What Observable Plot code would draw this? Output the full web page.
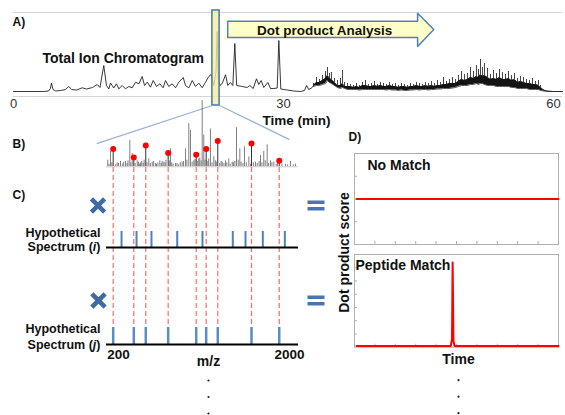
<!DOCTYPE html>
<html><head><meta charset="utf-8">
<script src="https://cdn.jsdelivr.net/npm/d3@7"></script>
<script src="https://cdn.jsdelivr.net/npm/@observablehq/plot@0.6"></script>
<style>
body{margin:0;background:#fff;}
#fig{position:relative;width:565px;height:415px;overflow:hidden;background:#fff;}
#fig svg{position:absolute;left:0;top:0;}
</style></head><body><div id="fig"></div>
<script>
// ---------- DATA ----------
// Panel A: total ion chromatogram (time in min, intensity arbitrary units)
const chromTime = [0,3.33,3.9,4.1,4.22,4.39,4.67,5.22,5.78,6.14,6.44,7.0,7.63,8.11,8.78,9.3,9.61,10.03,10.33,10.59,10.78,11.14,11.44,11.7,12.08,12.44,12.81,13.19,13.56,13.93,14.3,14.56,14.86,15.22,15.52,15.89,16.26,16.63,16.89,17.26,17.63,18.0,18.37,18.86,19.11,19.48,19.86,20.22,20.59,20.97,21.33,21.7,21.97,22.26,22.5,22.63,22.76,22.94,23.19,23.56,23.81,24.11,24.37,24.59,24.8,25.41,25.97,26.26,26.63,27.0,27.26,27.52,27.81,28.26,28.56,28.92,29.3,29.48,29.7,30.41,31.14,31.89,32.33,32.56,32.81,33.19,33.33];
const chromIntensity = [0,0,0.5,3,8.3,2,0.5,1,2,5,2,1.5,3.7,2.5,4,7,4,26,6,2.5,8.5,3.5,7.7,2.7,6,2.7,5,3.7,9.3,7.7,15,6,9.3,4.3,11,5,7.7,3.7,11,5,7.7,3.7,9.3,14,6,3.7,11,5,8.3,3.7,9.3,15,17,6,20,60,12,6,8,16.7,6,9,6,48,6,5,4,6,3,12.7,7,11,4,9,3,3,3.5,51,2.5,1.5,0.5,0,1,6,2,4,6];
// Panel A: densely sampled late region: band floor, band top, spike tops
const denseTime = [33.33,33.67,34.0,34.33,34.67,34.89,35.11,35.33,35.67,36.0,36.33,36.56,36.78,37.11,37.44,37.78,38.11,38.44,38.78,39.11,39.44,39.78,40.11,40.44,40.78,41.11,41.44,41.78,42.11,42.44,42.78,43.11,43.44,43.78,44.11,44.44,44.78,45.11,45.44,45.78,46.11,46.44,46.78,47.11,47.44,47.78,48.11,48.44,48.78,49.11,49.44,49.78,50.11,50.44,50.78,51.11,51.44,51.67,51.89,52.11,52.33,52.67,53.0,53.33,53.67,54.0,54.33,54.67,55.0,55.33,55.67,56.0,56.33,56.67,57.0,57.33,57.67,58.0,58.33,58.56,58.89,59.33,60.0,61.0];
const denseLow  = [5,6,6,7,8,11,9,8,6,4,3,4,3,2,2,2,2,1.5,2,2,2,2,2,2,2,2,1.5,2,1.5,1.5,1,1.5,1,1,1.5,1.5,2,1.5,2,2,1.5,2,2,2.5,2.5,3,3,3,3.5,4,5,6,6,6,7,7,8,7,8,8,7,6,6,6,5,5,5,5,5,4,4,3,3,3,3,2,2,2,2,1,0.5,0,0,0];
const denseCore = [6,9,9,11,13,16,13,12,9,6,6,8,5,5,5,4,5,4,6,6,5,5,6,5,6,5,5,6,5,5,4,5,5,4,5,5,6,5,5,6,5,6,5,6,6,7,7,8,8,8,10,12,11,12,14,13,15,14,17,15,16,14,12,13,12,14,12,12,13,11,12,9,10,9,8,8,7,7,6,4,1.5,0.3,0,0];
const denseHigh = [8,14,12,16,20,24,18,19,13,11,13,21,9,8,7,6,8,6,9,11,7,8,10,7,9,8,7,9,7,8,6,8,7,6,8,7,9,8,7,9,8,10,8,11,9,14,10,12,14,12,16,20,17,18,24,20,26,22,32,24,28,23,17,21,18,22,19,17,20,16,18,13,15,14,12,11,13,10,11,6,2,0.5,0,0];
const timeTicks = [0, 30, 60];
const selectedScan = [22.1, 22.9];      // highlighted time window (min)
const analysisSpan = [23.8, 46.7];      // "Dot product Analysis" arrow extent (min)

// Panel B: observed MS/MS spectrum (m/z, relative intensity)
const specMz = [87,100,116,130,170,186,200,221,240,255,274,290,300,319,330,344,375,397,410,420,432,445,460,470,500,519,535,555,570,589,600,615,635,650,660,677,690,700,735,747,760,775,800,815,830,850,870,885,905,920,940,958,975,993,1005,1035,1045,1056,1070,1081,1098,1110,1140,1150,1168,1185,1203,1220,1230,1265,1280,1292,1310,1326,1340,1361,1375,1397,1410,1425,1442,1460,1477,1490,1510,1526,1545,1572,1590,1620,1642,1660,1680,1695,1710,1729,1745,1765,1780,1800,1815,1835,1860,1875,1920,1958,1980,2010,2040,2063];
const specIntensity = [10,4,23,6,3,6,5,8,4,7,8,5,9,40,6,20,5,9,7,4,6,8,5,10,6,12,5,7,8,5,4,6,9,5,8,7,6,10,9,27,6,4,5,5,3,6,7,8,27,10,65,55,7,9,11,8,12,13,9,100,48,10,8,12,57,6,15,9,7,5,8,7,5,9,6,12,4,7,6,8,59,10,27,7,5,30,6,15,4,6,7,5,8,17,6,23,9,33,5,9,6,7,4,5,4,4,3,8,3,4];
const matchMz = [144, 361, 487, 723, 1018, 1123, 1245, 1600, 1892];
const matchIntensity = [27, 14, 32, 21, 18, 27, 39, 35, 9];

// Panel C: hypothetical spectra (m/z of fragment ions)
const hypoIMz = [232, 390, 547, 818, 1084, 1403, 1537, 1719, 1951];
const hypoJMz = matchMz;
const mzTicks = [200, 2000];

// Panel D: dot product score vs time
const noMatchTime = [0.1, 1, 2, 3, 4, 5, 6, 7, 8, 9, 10];
const noMatchScore = [2, 2, 2, 2, 2, 2, 2, 2, 2, 2, 2];
const matchTime = [0.1, 1, 2, 3, 4, 4.72, 4.78, 4.81, 4.85, 4.9, 5, 6, 7, 8, 9, 10];
const matchScore = [0.1, 0.1, 0.1, 0.1, 0.1, 0.1, 0.6, 6.4, 0.5, 0.1, 0.1, 0.1, 0.1, 0.1, 0.1, 0.1];
const dTimeTicks = [1, 2, 3, 4, 5, 6, 7, 8, 9];
const dScoreTicks1 = [1, 2, 3];
const dScoreTicks2 = [1, 2, 3, 4, 5, 6];

// ---------- BUILD ----------
const W = 565, H = 415;
const FONT = "'Liberation Sans', Arial, Helvetica, sans-serif";
const base = {width: W, height: H, style: {background: "transparent", fontFamily: FONT, overflow: "visible", color: "#111"}};
const chrom = chromTime.map((t, i) => ({t, I: chromIntensity[i]}));
const dense = denseTime.map((t, i) => ({t, lo: denseLow[i], core: denseCore[i], hi: denseHigh[i]}));
const spec = specMz.map((mz, i) => ({mz, I: specIntensity[i]}));
const match = matchMz.map((mz, i) => ({mz, I: matchIntensity[i]}));
const BLUE = "#4f81bd";
const T = (o) => ({lineAnchor: "middle", fontWeight: "bold", fill: "#111", ...o});

// arrow polygon from the analysis span
const [a0, a1] = analysisSpan;
const neck = a1 - 1.8;
const arrowPts = [[a0,54],[neck,54],[neck,45],[a1,62],[neck,78.3],[neck,70.3],[a0,70.3],[a0,54]].map(([t, I]) => ({t, I}));

const timesSymbol = {draw(c) { const r = 6.6; c.moveTo(-r,-r); c.lineTo(r,r); c.moveTo(r,-r); c.lineTo(-r,r); }};
const equalsSymbol = {draw(c) { c.rect(-8.5,-5,17,3.6); c.rect(-8.5,1.4,17,3.6); }};
const ellipsis = (dx, dy0) => [0, 16.5, 33].map(o => Plot.dot([0], {frameAnchor: "bottom", dx, dy: dy0 + o, r: 1.1, fill: "#222", stroke: "none"}));

const chartA = Plot.plot({
  ...base,
  marginLeft: 13, marginRight: 3, marginTop: 12, marginBottom: 319,
  x: {domain: [0, 60], range: [13, 553]},
  y: {domain: [-5, 79], axis: null},
  marks: [
    Plot.ruleY([-5, 79], {stroke: "#d6d6d6", strokeWidth: 1}),
    Plot.axisX(timeTicks, {tickSize: 0, tickPadding: 2.5, fontSize: 13, fill: "#333", label: null}),
    Plot.text(["Time (min)"], T({frameAnchor: "bottom", dx: 8.5, dy: 24, fontSize: 13.5})),
    Plot.areaY(dense, {x: "t", y1: "lo", y2: "core", fill: "#141414"}),
    Plot.ruleX(dense, {x: "t", y1: "core", y2: "hi", stroke: "#141414", strokeWidth: 0.8}),
    Plot.line(dense, {x: "t", y: "core", stroke: "#141414", strokeWidth: 0.7}),
    Plot.line(dense, {x: "t", y: "lo", stroke: "#141414", strokeWidth: 0.7}),
    Plot.line(chrom, {x: "t", y: "I", stroke: "#222", strokeWidth: 0.9}),
    Plot.rect([selectedScan], {x1: d => d[0], x2: d => d[1], y1: -14, y2: 81, fill: "#f3ee9c", fillOpacity: 0.8, stroke: "#4a76ad", strokeWidth: 1.5}),
    Plot.line(arrowPts, {x: "t", y: "I", fill: "#ffffc8", stroke: BLUE, strokeWidth: 1.5}),
    Plot.text(["Dot product Analysis"], T({x: (a0 + neck) / 2, y: 62.15, dx: 2, dy: 1, fontSize: 13.5})),
    Plot.text(["Total Ion Chromatogram"], T({frameAnchor: "top-left", dx: 29, dy: 46, textAnchor: "start", fontSize: 14})),
    Plot.text(["A)"], T({frameAnchor: "top-left", dx: -1, dy: 10, textAnchor: "start", fontSize: 12}))
  ]
});

const mzX = {domain: [200, 2000], range: [118, 289]};
const cMargins = {marginLeft: 106, marginRight: 267};

const chartB = Plot.plot({
  ...base, ...cMargins, marginTop: 100, marginBottom: 248.7,
  x: {...mzX, axis: null},
  y: {domain: [0, 100], axis: null},
  marks: [
    Plot.ruleX(spec, {x: "mz", y1: 0, y2: "I", stroke: "#555", strokeOpacity: 0.75, strokeWidth: 1}),
    Plot.ruleX(match, {x: "mz", y1: 0, y2: "I", stroke: "#333", strokeWidth: 1}),
    Plot.ruleY([0], {stroke: "#ccc", strokeWidth: 1}),
    Plot.dot(match, {x: "mz", y: "I", r: 3, fill: "#ff0000", stroke: "none"}),
    Plot.text(["B)"], T({frameAnchor: "top-left", dx: -94, dy: 44, textAnchor: "start", fontSize: 12}))
  ]
});

// connectors from the highlighted scan to spectrum B, placed through both charts' scales
const ax = chartA.scale("x"), ay = chartA.scale("y"), bx = chartB.scale("x"), by = chartB.scale("y");
const connectors = [
  {x1: ax.apply(selectedScan[0]), y1: ay.apply(-14), x2: bx.apply(specMz[0]) - 11, y2: by.apply(35)},
  {x1: ax.apply(selectedScan[1]), y1: ay.apply(-14), x2: bx.apply(mzTicks[1]), y2: by.apply(41)}
];
const chartLinks = Plot.plot({
  ...base, margin: 0,
  x: {type: "identity", axis: null}, y: {type: "identity", axis: null},
  marks: [Plot.link(connectors, {x1: "x1", y1: "y1", x2: "x2", y2: "y2", stroke: "#95b3d7", strokeWidth: 1.2})]
});

const chartDash = Plot.plot({
  ...base, ...cMargins, marginTop: 167, marginBottom: 71,
  x: {...mzX, axis: null}, y: {axis: null},
  marks: [Plot.ruleX(matchMz, {stroke: "#ff6b6b", strokeWidth: 1.2, strokeDasharray: "5,3"})]
});

const chartCi = Plot.plot({
  ...base, ...cMargins, marginTop: 231, marginBottom: 168,
  x: {...mzX, axis: null}, y: {domain: [0, 1], axis: null},
  marks: [
    Plot.ruleX(hypoIMz, {y1: 0, y2: 1, stroke: BLUE, strokeWidth: 2}),
    Plot.ruleY([0], {stroke: "#000", strokeWidth: 2}),
    Plot.text(["Hypothetical"], T({frameAnchor: "top-left", dx: -6, dy: 1, textAnchor: "end", fontSize: 12.5})),
    Plot.text(["Spectrum (i)"], T({frameAnchor: "bottom-left", dx: -6, dy: -0.5, textAnchor: "end", fontSize: 12.5})),
    Plot.text(["C)"], T({frameAnchor: "top-left", dx: -94, dy: -36, textAnchor: "start", fontSize: 12})),
    Plot.dot([0], {frameAnchor: "top-left", dx: -8.5, dy: -26, symbol: timesSymbol, stroke: "#3f6aa6", strokeWidth: 4.5, fill: "none"}),
    Plot.dot([0], {frameAnchor: "top-right", dx: 17.5, dy: -26, symbol: equalsSymbol, fill: "#4a74ad", stroke: "none"})
  ]
});

const chartCj = Plot.plot({
  ...base, ...cMargins, marginTop: 327, marginBottom: 71,
  x: {...mzX}, y: {domain: [0, 1], axis: null},
  marks: [
    Plot.ruleX(hypoJMz, {y1: 0, y2: 1, stroke: "#5a8cc8", strokeWidth: 2.5}),
    Plot.ruleY([0], {stroke: "#000", strokeWidth: 2}),
    Plot.axisX(mzTicks, {tickSize: 0, tickPadding: 5, tickFormat: d => String(d), fontSize: 13.5, fontWeight: "bold", fill: "#111", label: null}),
    Plot.text(["m/z"], T({frameAnchor: "bottom", dx: 6, dy: 17, fontSize: 14})),
    Plot.text(["Hypothetical"], T({frameAnchor: "top-left", dx: -6, dy: 1, textAnchor: "end", fontSize: 12.5})),
    Plot.text(["Spectrum (j)"], T({frameAnchor: "bottom-left", dx: -6, dy: 0, textAnchor: "end", fontSize: 12.5})),
    Plot.dot([0], {frameAnchor: "top-left", dx: -8, dy: -27, symbol: timesSymbol, stroke: "#3f6aa6", strokeWidth: 4.5, fill: "none"}),
    Plot.dot([0], {frameAnchor: "top-right", dx: 17.5, dy: -27, symbol: equalsSymbol, fill: "#4a74ad", stroke: "none"}),
    ...ellipsis(6, 36)
  ]
});

const dAxes = (yt) => [
  Plot.frame({stroke: "#b0b0b0"}),
  Plot.axisX(dTimeTicks, {tickSize: -3, tickFormat: () => "", stroke: "#b0b0b0", label: null}),
  Plot.axisY(yt, {tickSize: -3, tickFormat: () => "", stroke: "#b0b0b0", label: null})
];

const chartD1 = Plot.plot({
  ...base, marginLeft: 354, marginRight: 7, marginTop: 153, marginBottom: 171,
  x: {domain: [0, 10]}, y: {domain: [0, 4]},
  marks: [
    ...dAxes(dScoreTicks1),
    Plot.line(noMatchTime.map((t, i) => ({t, s: noMatchScore[i]})), {x: "t", y: "s", stroke: "#ff0000", strokeWidth: 2}),
    Plot.text(["No Match"], T({frameAnchor: "top-left", dx: 13, dy: 12, textAnchor: "start", fontSize: 14})),
    Plot.text(["D)"], T({frameAnchor: "top-left", dx: -6, dy: -16, textAnchor: "start", fontSize: 12}))
  ]
});

const chartD2 = Plot.plot({
  ...base, marginLeft: 354, marginRight: 7, marginTop: 254, marginBottom: 68.3,
  x: {domain: [0, 10]}, y: {domain: [0, 7]},
  marks: [
    ...dAxes(dScoreTicks2),
    Plot.line(matchTime.map((t, i) => ({t, s: matchScore[i]})), {x: "t", y: "s", stroke: "#ff0000", strokeWidth: 2}),
    Plot.text(["Peptide Match"], T({frameAnchor: "top-left", dx: 1, dy: 11, textAnchor: "start", fontSize: 14})),
    Plot.text(["Dot product score"], T({frameAnchor: "top-left", dx: -10, dy: -2, rotate: -90, textAnchor: "middle", fontSize: 14})),
    Plot.text(["Time"], T({frameAnchor: "bottom", dx: 2, dy: 12.5, fontSize: 14})),
    ...ellipsis(2, 33)
  ]
});

const fig = document.getElementById("fig");
for (const c of [chartA, chartLinks, chartB, chartDash, chartCi, chartCj, chartD1, chartD2]) fig.appendChild(c);
fig.querySelectorAll("text").forEach(t => {
  const m = t.textContent.match(/^Spectrum \((\w)\)$/);
  if (m) t.innerHTML = `Spectrum (<tspan font-style="italic">${m[1]}</tspan>)`;
});
</script></body></html>
